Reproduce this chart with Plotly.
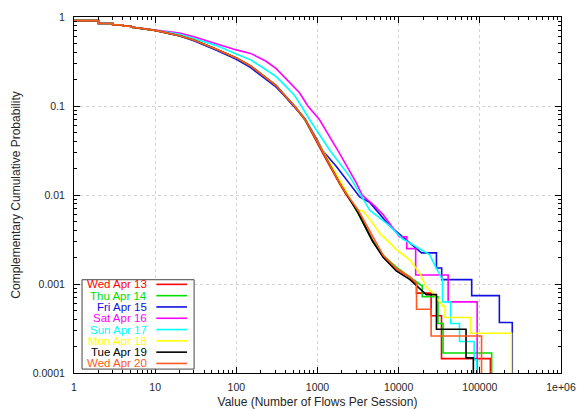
import plotly.graph_objects as go

# ---- data (CCDF step curves, corner points) ----
HEAD_X = [1, 2, 2, 3, 3, 4, 4, 5, 5]
HEAD_P = [0.91, 0.91, 0.845, 0.845, 0.815, 0.815, 0.79, 0.79, 0.77]

labels = ["Wed Apr 13", "Thu Apr 14", "Fri Apr 15", "Sat Apr 16",
          "Sun Apr 17", "Mon Apr 18", "Tue Apr 19", "Wed Apr 20"]
colors = ["#ff0000", "#00dd00", "#1010e0", "#ff00ff",
          "#00ffff", "#ffff00", "#000000", "#ff5a20"]

wed13_x = [10, 20, 30, 56, 100, 150, 230, 310, 370, 520, 700, 1000, 1280, 1860, 2240, 3160, 4790, 6450, 9330, 13800,
           16600, 16600, 25100, 25100, 33700, 33700, 135000, 135000]
wed13_p = [0.707, 0.615, 0.548, 0.433, 0.345, 0.28, 0.207, 0.168, 0.14, 0.099, 0.07, 0.039, 0.025, 0.0135, 0.0102,
           0.0065, 0.0031, 0.0020, 0.00148, 0.00118,
           0.00100, 0.00079, 0.00079, 0.00044, 0.00044, 0.000145, 0.000145, 1e-5]

thu14_x = [10, 20, 30, 56, 100, 150, 230, 310, 370, 520, 700, 1000, 1280, 1860, 2240, 3160, 4790, 6450, 9330, 13800,
           19500, 19500, 30500, 30500, 35200, 35200, 140000, 140000]
thu14_p = [0.707, 0.617, 0.55, 0.435, 0.346, 0.281, 0.208, 0.169, 0.14, 0.10, 0.07, 0.04, 0.026, 0.014, 0.0108,
           0.0062, 0.0030, 0.0021, 0.00155, 0.00118,
           0.00095, 0.00072, 0.00072, 0.00036, 0.00036, 0.000168, 0.000168, 1e-5]

fri15_x = [10, 20, 30, 56, 100, 150, 230, 310, 370, 520, 700, 1000, 1160, 1700, 2480, 3310, 4370, 7760, 16600, 19100,
           29200, 29200, 33900, 33900, 79400, 79400, 174000, 174000, 251000, 251000]
fri15_p = [0.707, 0.612, 0.54, 0.425, 0.335, 0.27, 0.20, 0.163, 0.137, 0.098, 0.072, 0.041, 0.0315, 0.021, 0.0136,
           0.0095, 0.0083, 0.0045, 0.0025, 0.00224,
           0.00224, 0.00151, 0.00151, 0.00112, 0.00112, 0.00074, 0.00074, 0.00037, 0.00037, 1e-5]

sat16_x = [10, 20, 30, 56, 100, 150, 230, 310, 370, 520, 600, 760, 1060, 1860, 3020, 3550, 5000, 6460, 9330, 10200,
           12600, 12600, 16200, 16200, 40700, 40700, 92700, 92700]
sat16_p = [0.712, 0.66, 0.60, 0.50, 0.427, 0.39, 0.32, 0.263, 0.224, 0.162, 0.141, 0.10, 0.07, 0.0295, 0.0136,
           0.010, 0.0076, 0.006, 0.0037, 0.0034,
           0.0034, 0.0025, 0.0025, 0.00126, 0.00126, 0.00063, 0.00063, 1e-5]

sun17_x = [10, 20, 30, 56, 100, 150, 230, 310, 370, 520, 630, 800, 1410, 2480, 3310, 4370, 7760, 11200, 15100, 24000,
           29200, 34700, 34700, 43700, 43700, 56200, 56200, 85100, 85100, 91200, 91200]
sun17_p = [0.71, 0.64, 0.575, 0.48, 0.385, 0.33, 0.257, 0.214, 0.182, 0.132, 0.10, 0.07, 0.032, 0.0162, 0.0105,
           0.0068, 0.0045, 0.0032, 0.00275, 0.00214,
           0.0015, 0.00112, 0.00063, 0.00063, 0.00036, 0.00036, 0.000226, 0.000226, 0.000141, 0.000141, 1e-5]

mon18_x = [10, 20, 30, 56, 100, 150, 230, 310, 370, 520, 700, 1000, 1280, 1860, 2240, 3020, 3630, 4500, 5890, 9330,
           13800, 18200, 21900, 26300, 35500, 37200, 37200, 77600, 77600, 246000, 246000]
mon18_p = [0.707, 0.617, 0.55, 0.436, 0.347, 0.282, 0.209, 0.17, 0.141, 0.10, 0.071, 0.041, 0.027, 0.015, 0.0112,
           0.0068, 0.0066, 0.0052, 0.0037, 0.00245,
           0.00186, 0.00132, 0.00093, 0.00079, 0.00056, 0.00056, 0.00042, 0.00042, 0.00028, 0.00028, 1e-5]

tue19_x = [10, 20, 30, 56, 100, 150, 230, 310, 370, 520, 700, 1000, 1280, 1860, 2240, 3160, 4790, 6450, 9330, 13800,
           21900, 29200, 29200, 67600, 67600, 83200, 83200]
tue19_p = [0.707, 0.617, 0.55, 0.436, 0.347, 0.282, 0.209, 0.17, 0.141, 0.10, 0.071, 0.04, 0.026, 0.0138, 0.0104,
           0.0063, 0.0030, 0.0020, 0.0014, 0.00112,
           0.00076, 0.00076, 0.00031, 0.00031, 0.000148, 0.000148, 1e-5]

wed20_x = [10, 20, 30, 56, 100, 150, 230, 310, 370, 520, 700, 1000, 1280, 1860, 2240, 3160, 4790, 6450, 9330, 13800,
           16600, 16600, 25100, 25100, 105000, 105000]
wed20_p = [0.707, 0.617, 0.55, 0.436, 0.347, 0.282, 0.209, 0.17, 0.141, 0.10, 0.071, 0.04, 0.026, 0.0138, 0.0105,
           0.0068, 0.0034, 0.0021, 0.0015, 0.0012,
           0.00102, 0.00052, 0.00052, 0.00026, 0.00026, 1e-5]

series_x = [wed13_x, thu14_x, fri15_x, sat16_x, sun17_x, mon18_x, tue19_x, wed20_x]
series_p = [wed13_p, thu14_p, fri15_p, sat16_p, sun17_p, mon18_p, tue19_p, wed20_p]

x_tickvals = [1, 10, 100, 1000, 10000, 100000, 1000000]
x_ticktext = ["1", "10", "100", "1000", "10000", "100000", "1e+06"]
y_tickvals = [1, 0.1, 0.01, 0.001, 0.0001]
y_ticktext = ["1", "0.1", "0.01", "0.001", "0.0001"]

FONT = "Liberation Sans, Arial, sans-serif"
TXT = "#262626"

# minor tick positions (2..9 within each decade) for the log axes
x_minor = [m * 10 ** k for k in range(0, 6) for m in range(2, 10)]
y_minor = [m * 10.0 ** k for k in range(-4, 0) for m in range(2, 10)]

fig = go.Figure()
for name, col, xs, ps in zip(labels, colors, series_x, series_p):
    fig.add_trace(go.Scatter(x=HEAD_X + xs, y=HEAD_P + ps, mode="lines", name=name,
                             line=dict(color=col, width=1.6), showlegend=False))

axis_common = dict(type="log", showline=True, linecolor="black", linewidth=1, mirror="allticks",
                   ticks="inside", ticklen=6, tickcolor="black", showgrid=True, gridcolor="#d2d2d2",
                   griddash="dot", gridwidth=1, zeroline=False, automargin=False,
                   tickfont=dict(family=FONT, size=10.5, color=TXT))

fig.update_xaxes(**axis_common, range=[0, 6], tickvals=x_tickvals, ticktext=x_ticktext,
                 ticklabelstandoff=4,
                 minor=dict(tickmode="array", tickvals=x_minor, ticks="inside", ticklen=3,
                            tickcolor="black", showgrid=False),
                 title=dict(text="Value (Number of Flows Per Session)", standoff=6,
                            font=dict(family=FONT, size=12, color=TXT)))
fig.update_yaxes(**axis_common, range=[-4, 0], tickvals=y_tickvals, ticktext=y_ticktext,
                 ticklabelstandoff=6,
                 minor=dict(tickmode="array", tickvals=y_minor, ticks="inside", ticklen=3,
                            tickcolor="black", showgrid=False),
                 title=dict(text="Complementary Cumulative Probability", standoff=9,
                            font=dict(family=FONT, size=12, color=TXT)))

# gnuplot-style key: text right-aligned, sample line on the right
box_x0, box_x1, box_y0, box_y1 = 0.0165, 0.2466, 0.011, 0.262
fig.add_shape(type="rect", xref="paper", yref="paper", x0=box_x0, x1=box_x1, y0=box_y0, y1=box_y1,
              line=dict(color="#444444", width=1), fillcolor="white", layer="above")
row0, drow = 0.249, 0.03174
for i, (name, col) in enumerate(zip(labels, colors)):
    yy = row0 - i * drow
    fig.add_annotation(xref="paper", yref="paper", x=0.153, y=yy, text=name, showarrow=False,
                       xanchor="right", yanchor="middle",
                       font=dict(family=FONT, size=11.5, color=col))
    fig.add_shape(type="line", xref="paper", yref="paper", x0=0.169, x1=0.232, y0=yy, y1=yy,
                  line=dict(color=col, width=1.6), layer="above")

fig.update_layout(width=578, height=409, margin=dict(l=74, r=17, t=17, b=36),
                  paper_bgcolor="white", plot_bgcolor="white", showlegend=False)

fig.write_html("out.html")
